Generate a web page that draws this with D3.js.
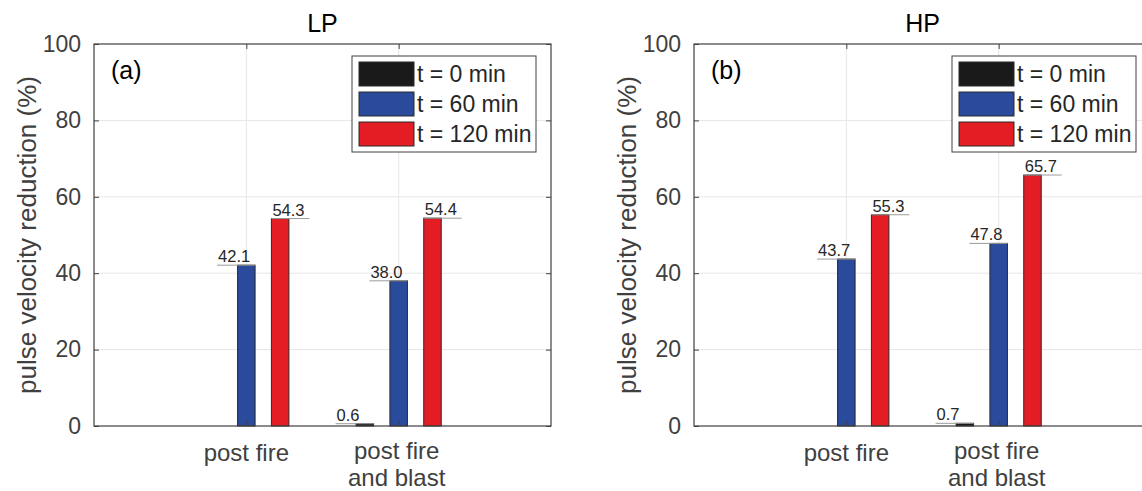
<!DOCTYPE html>
<html>
<head>
<meta charset="utf-8">
<script src="https://cdn.jsdelivr.net/npm/d3@7"></script>
<style>
  html, body { margin: 0; padding: 0; background: #ffffff; }
  svg { display: block; font-family: "Liberation Sans", Arial, Helvetica, sans-serif; }
</style>
</head>
<body>
<svg id="chart" width="1142" height="491"></svg>
<script>
// Categories (tick labels, split into lines) and series
const categories = [["post fire"], ["post fire", "and blast"]];
const seriesNames = ["t = 0 min", "t = 60 min", "t = 120 min"];
const seriesColors = ["#1a1a1a", "#2a4a9c", "#e31d23"];
const yTicks = [0, 20, 40, 60, 80, 100];

// Pulse velocity reduction (%), LP panel
const lpT0 = [0.0, 0.6];
const lpT60 = [42.1, 38.0];
const lpT120 = [54.3, 54.4];

// Pulse velocity reduction (%), HP panel
const hpT0 = [0.0, 0.7];
const hpT60 = [43.7, 47.8];
const hpT120 = [55.3, 65.7];

const panels = [
  { title: "LP", tag: "(a)", left: 94, series: [lpT0, lpT60, lpT120] },
  { title: "HP", tag: "(b)", left: 694, series: [hpT0, hpT60, hpT120] }
];

const svg = d3.select("#chart");
const boxTop = 44, boxW = 457, boxH = 382;
const axisGray = "#404040";
const groupOffset = 0.222, barW = 0.115;

panels.forEach(p => {
  const g = svg.append("g").attr("transform", `translate(${p.left},${boxTop})`);
  const x = d3.scaleLinear().domain([0, 3]).range([0, boxW]);
  const y = d3.scaleLinear().domain([0, 100]).range([boxH, 0]);

  // background
  g.append("rect").attr("width", boxW).attr("height", boxH).attr("fill", "#fff");

  // grid lines
  g.append("g").selectAll("line").data(yTicks.slice(1, -1)).join("line")
    .attr("x1", 0).attr("x2", boxW)
    .attr("y1", d => y(d)).attr("y2", d => y(d))
    .attr("stroke", "#e6e6e6").attr("stroke-width", 1);
  g.append("g").selectAll("line").data([1, 2]).join("line")
    .attr("x1", d => x(d)).attr("x2", d => x(d))
    .attr("y1", 0).attr("y2", boxH)
    .attr("stroke", "#e6e6e6").attr("stroke-width", 1);

  // bars
  p.series.forEach((vals, si) => {
    const off = (si - 1) * groupOffset;
    g.append("g").selectAll("rect").data(vals).join("rect")
      .attr("x", (d, i) => x(i + 1 + off - barW / 2))
      .attr("width", x(barW) - x(0))
      .attr("y", d => y(d))
      .attr("height", d => y(0) - y(d))
      .attr("fill", seriesColors[si])
      .attr("stroke", "#2b2b2b").attr("stroke-width", 1);

    // value labels with underline
    vals.forEach((d, i) => {
      if (d === 0) return;
      const bl = x(i + 1 + off - barW / 2), br = x(i + 1 + off + barW / 2);
      const len = 38;
      const x0 = si === 2 ? bl : br - len;
      g.append("line")
        .attr("x1", x0).attr("x2", x0 + len)
        .attr("y1", y(d)).attr("y2", y(d))
        .attr("stroke", "#9a9a9a").attr("stroke-width", 1);
      g.append("text")
        .attr("x", x0 + 1).attr("y", y(d) - 3)
        .attr("font-size", 16.5).attr("fill", "#262626")
        .text(d.toFixed(1));
    });
  });

  // axes box
  g.append("rect").attr("width", boxW).attr("height", boxH)
    .attr("fill", "none").attr("stroke", axisGray).attr("stroke-width", 1.2);

  // y axis ticks (inside, both sides) and labels
  const yAxis = d3.axisLeft(y).tickValues(yTicks).tickSize(-5).tickPadding(13);
  const ya = g.append("g").call(yAxis);
  ya.select(".domain").remove();
  ya.selectAll("line").attr("stroke", axisGray);
  ya.selectAll("text").attr("font-size", 23).attr("fill", axisGray)
    .attr("font-family", "Liberation Sans, Arial, sans-serif");
  g.append("g").attr("transform", `translate(${boxW},0)`)
    .call(d3.axisRight(y).tickValues(yTicks).tickSize(-5).tickFormat(""))
    .call(a => a.select(".domain").remove())
    .selectAll("line").attr("stroke", axisGray);

  // x ticks (inside, top and bottom)
  g.append("g").attr("transform", `translate(0,${boxH})`)
    .call(d3.axisBottom(x).tickValues([1, 2]).tickSize(-5).tickFormat(""))
    .call(a => a.select(".domain").remove())
    .selectAll("line").attr("stroke", axisGray);
  g.append("g")
    .call(d3.axisTop(x).tickValues([1, 2]).tickSize(-5).tickFormat(""))
    .call(a => a.select(".domain").remove())
    .selectAll("line").attr("stroke", axisGray);

  // category labels
  categories.forEach((lines, i) => {
    const t = g.append("text").attr("text-anchor", "middle")
      .attr("font-size", 24).attr("fill", axisGray);
    lines.forEach((ln, li) => {
      t.append("tspan").attr("x", x(i + 1) - (lines.length === 1 ? 0 : 2))
        .attr("y", boxH + (lines.length === 1 ? 35 : 33) + li * 27).text(ln);
    });
  });

  // y axis title
  g.append("text")
    .attr("transform", `translate(${-58},${boxH / 2}) rotate(-90)`)
    .attr("text-anchor", "middle").attr("font-size", 26).attr("fill", axisGray)
    .text("pulse velocity reduction (%)");

  // panel title
  g.append("text").attr("x", boxW / 2).attr("y", -12)
    .attr("text-anchor", "middle").attr("font-size", 25).attr("fill", "#000")
    .text(p.title);

  // panel tag
  g.append("text").attr("x", 17).attr("y", 35)
    .attr("font-size", 25).attr("fill", "#000").text(p.tag);

  // legend
  const lg = g.append("g").attr("transform", "translate(258,12)");
  lg.append("rect").attr("width", 184).attr("height", 96)
    .attr("fill", "#fff").attr("stroke", axisGray).attr("stroke-width", 1);
  seriesNames.forEach((name, si) => {
    const ry = 6 + si * 30;
    lg.append("rect").attr("x", 7).attr("y", ry).attr("width", 55).attr("height", 24)
      .attr("fill", seriesColors[si]).attr("stroke", "#2b2b2b").attr("stroke-width", 1);
    lg.append("text").attr("x", 65).attr("y", ry + 20)
      .attr("font-size", 23).attr("fill", "#262626").text(name);
  });
});
</script>
</body>
</html>
